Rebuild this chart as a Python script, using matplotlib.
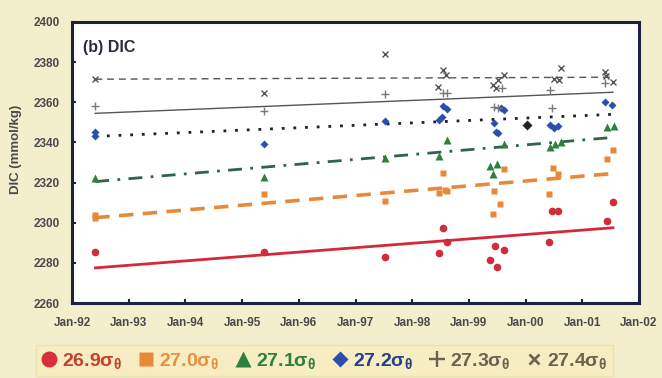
import matplotlib
matplotlib.use('Agg')
from matplotlib import pyplot as plt
from matplotlib.lines import Line2D
import numpy as np

plt.rcParams['font.family'] = ['Liberation Sans', 'DejaVu Sans']
plt.rcParams['mathtext.fontset'] = 'custom'
plt.rcParams['mathtext.rm'] = 'Liberation Sans:bold'
plt.rcParams['mathtext.it'] = 'Liberation Sans:bold'
plt.rcParams['mathtext.bf'] = 'Liberation Sans:bold'

# sampling dates in decimal years, DIC in umol/kg
dates_269 = [1992.41, 1995.39, 1997.52, 1998.55, 1998.61, 1998.47, 1999.46, 1999.62, 1999.38, 1999.50,
             2000.47, 2000.57, 2000.41, 2001.54, 2001.43]
dic_269 = [2285.5, 2285.5, 2283, 2297.5, 2290.5, 2285, 2288.5, 2286.5, 2281.5, 2278,
           2306, 2306, 2290.5, 2310.5, 2301]

dates_270 = [1992.41, 1992.41, 1995.39, 1997.52, 1998.55, 1998.57, 1998.61, 1998.47, 1999.62, 1999.45,
             1999.55, 1999.42, 2000.49, 2000.57, 2000.41, 2001.43, 2001.54]
dic_270 = [2304, 2302.5, 2314.5, 2311, 2325, 2316.5, 2316, 2315, 2327, 2316,
           2309.5, 2304.5, 2327.5, 2324.5, 2314.5, 2331.5, 2336]

dates_271 = [1992.41, 1995.39, 1997.52, 1998.61, 1998.47, 1999.62, 1999.50, 1999.38, 1999.42,
             2000.43, 2000.52, 2000.62, 2001.43, 2001.56]
dic_271 = [2322.5, 2323, 2332, 2341, 2333, 2339, 2329.5, 2328.5, 2324.5,
           2337.5, 2339, 2340, 2347.5, 2348]

dates_272 = [1992.41, 1992.41, 1995.39, 1997.52, 1998.55, 1998.61, 1998.52, 1998.47, 1999.57, 1999.62,
             1999.44, 1999.48, 1999.51, 2000.43, 2000.57, 2000.50, 2001.40, 2001.52]
dic_272 = [2345, 2343, 2339, 2350.5, 2358, 2356.5, 2352.5, 2351, 2357, 2356,
           2349.5, 2345, 2344.5, 2348.5, 2348, 2347, 2360, 2358.5]

dates_273 = [1992.41, 1995.39, 1997.52, 1998.61, 1998.55, 1999.59, 1999.44, 1999.51, 2000.43, 2000.47, 2001.40]
dic_273 = [2358, 2355.5, 2364, 2364.5, 2364.5, 2367, 2357.5, 2357, 2366, 2357, 2369.5]

dates_274 = [1992.41, 1995.39, 1997.52, 1998.55, 1998.59, 1998.45, 1999.62, 1999.52, 1999.42, 1999.48,
             2000.62, 2000.50, 2000.59, 2001.40, 2001.42, 2001.54]
dic_274 = [2371.5, 2364.5, 2384, 2376, 2373.5, 2367.5, 2373.5, 2371, 2368.5, 2367,
           2377, 2371.5, 2371, 2375, 2373, 2370]

# odd black point near Jan-00
dates_ref = [2000.02]
dic_ref = [2348.5]

# linear trends: value at first and last sampling date
trend_dates = [1992.41, 2001.54]
trend_269 = [2277.5, 2297.5]
trend_270 = [2302.5, 2324.5]
trend_271 = [2320.5, 2342.5]
trend_272 = [2343, 2354]
trend_273 = [2354.5, 2365]
trend_274 = [2371.5, 2372.5]

years = list(range(1992, 2003))
year_labels = ['Jan-%02d' % (y % 100) for y in years]
yticks = [2260, 2280, 2300, 2320, 2340, 2360, 2380, 2400]

legend_labels = [r'26.9$\sigma_\theta$', r'27.0$\sigma_\theta$', r'27.1$\sigma_\theta$',
                 r'27.2$\sigma_\theta$', r'27.3$\sigma_\theta$', r'27.4$\sigma_\theta$']

bg = '#f3eecb'
fig = plt.figure(figsize=(6.62, 3.78), dpi=100, facecolor=bg)
ax = fig.add_axes([0.1088, 0.1984, 0.8565, 0.7434])
ax.set_facecolor('white')

red, orange, green, blue = '#cf2d3a', '#e8893a', '#2e8040', '#2a4fae'
grey, dgrey = '#7a7a7a', '#555555'

ax.plot(trend_dates, trend_269, '-', color='#d22a3a', lw=2.0, zorder=2)
ax.plot(trend_dates, trend_270, color=orange, lw=2.6, dashes=(4, 2.6), zorder=2)
ax.plot(trend_dates, trend_271, color='#2f6448', lw=2.0, dashes=(5, 3, 1, 3), zorder=2)
ax.plot(trend_dates, trend_272, color='#1e2030', lw=2.0, dashes=(1, 3.2), zorder=2)
ax.plot(trend_dates, trend_273, '-', color=dgrey, lw=1.0, zorder=2)
ax.plot(trend_dates, trend_274, color=dgrey, lw=1.0, dashes=(5, 3.5), zorder=2)

ax.plot(dates_269, dic_269, 'o', color=red, ms=5.5, mec='none', zorder=3)
ax.plot(dates_270, dic_270, 's', color=orange, ms=5, mec='none', zorder=3)
ax.plot(dates_271, dic_271, '^', color=green, ms=5.5, mec='none', zorder=3)
ax.plot(dates_272, dic_272, 'D', color=blue, ms=4.5, mec='none', zorder=3)
ax.plot(dates_273, dic_273, '+', color=grey, ms=5.5, mew=1.0, zorder=3)
ax.plot(dates_274, dic_274, 'x', color=dgrey, ms=5, mew=1.0, zorder=3)
ax.plot(dates_ref, dic_ref, 'D', color='#222222', ms=5, mec='none', zorder=3)

ax.set_xlim(1992, 2002)
ax.set_ylim(2260, 2400)
ax.set_xticks(years)
ax.set_xticklabels(year_labels)
ax.set_yticks(yticks)
for lab in ax.get_xticklabels() + ax.get_yticklabels():
    lab.set_fontweight('bold')
ax.tick_params(axis='both', direction='in', length=3, width=1.5, color='#1c2340',
               labelsize=8.5, labelcolor='#4a4a4a')
ax.tick_params(axis='x', pad=10)
ax.tick_params(axis='y', pad=9)
for s in ax.spines.values():
    s.set_linewidth(2.2)
    s.set_color('#1c2340')

ax.set_ylabel('DIC (mmol/kg)', fontsize=9.5, fontweight='bold', color='#4a4a4a')
ax.yaxis.set_label_coords(-0.088, 0.545)
ax.text(0.019, 0.91, '(b) DIC', transform=ax.transAxes, fontsize=11.5, fontweight='bold',
        color='#2a2a3a', va='center', ha='left')

handles = [Line2D([], [], marker='o', ls='none', color='#d8303a', ms=11.5, mec='none'),
           Line2D([], [], marker='s', ls='none', color=orange, ms=10, mec='none'),
           Line2D([], [], marker='^', ls='none', color=green, ms=11, mec='none'),
           Line2D([], [], marker='D', ls='none', color=blue, ms=8.5, mec='none'),
           Line2D([], [], marker='+', ls='none', color='#6b6450', ms=12, mew=1.7),
           Line2D([], [], marker='x', ls='none', color='#6b6450', ms=7, mew=1.9)]
leg = fig.legend(handles, legend_labels, ncol=6, loc='center', bbox_to_anchor=(0.49, 0.046),
                 frameon=True, fancybox=False, facecolor='#f8edc2', edgecolor='#ecdfa8',
                 handlelength=0.8, handletextpad=0.25, columnspacing=0.85, borderpad=0.3,
                 prop={'size': 14, 'weight': 'bold'})
leg.get_frame().set_linewidth(1.0)
text_colors = ['#c8402a', '#e8903e', '#2f7f3a', '#2a3f8a', '#6b6450', '#6b6450']
for t, c in zip(leg.get_texts(), text_colors):
    t.set_color(c)

fig.savefig('out.png', dpi=100, facecolor=bg)
